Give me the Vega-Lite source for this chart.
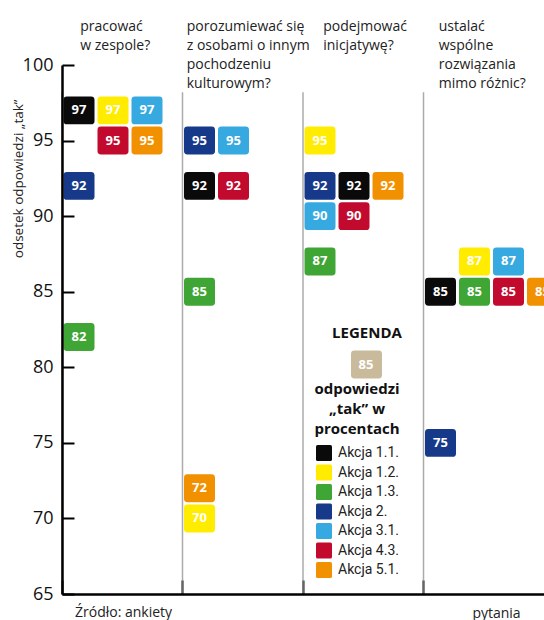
{
  "$schema": "https://vega.github.io/schema/vega-lite/v6.json",
  "width": 482,
  "height": 529,
  "autosize": "none",
  "padding": {"left": 62, "top": 65, "right": 0, "bottom": 26},
  "background": "white",
  "config": {
    "view": {"stroke": null},
    "font": "Open Sans",
    "axis": {"grid": false}
  },
  "title": {
    "text": "Źródło: ankiety",
    "orient": "bottom",
    "anchor": "start",
    "frame": "group",
    "fontSize": 14,
    "fontWeight": "normal",
    "color": "#222222",
    "font": "Open Sans",
    "offset": -14,
    "dx": 13
  },
  "datasets": {
    "questions": [
      {"question": "pracować\nw zespole?"},
      {"question": "porozumiewać się\nz osobami o innym\npochodzeniu\nkulturowym?"},
      {"question": "podejmować\ninicjatywę?"},
      {"question": "ustalać\nwspólne\nrozwiązania\nmimo różnic?"}
    ],
    "answers": [
      {"question": "pracować\nw zespole?", "akcja": "Akcja 1.1.", "value": 97, "slot": 0},
      {"question": "pracować\nw zespole?", "akcja": "Akcja 1.2.", "value": 97, "slot": 1},
      {"question": "pracować\nw zespole?", "akcja": "Akcja 3.1.", "value": 97, "slot": 2},
      {"question": "pracować\nw zespole?", "akcja": "Akcja 4.3.", "value": 95, "slot": 1},
      {"question": "pracować\nw zespole?", "akcja": "Akcja 5.1.", "value": 95, "slot": 2},
      {"question": "pracować\nw zespole?", "akcja": "Akcja 2.", "value": 92, "slot": 0},
      {"question": "pracować\nw zespole?", "akcja": "Akcja 1.3.", "value": 82, "slot": 0},
      {"question": "porozumiewać się\nz osobami o innym\npochodzeniu\nkulturowym?", "akcja": "Akcja 2.", "value": 95, "slot": 0},
      {"question": "porozumiewać się\nz osobami o innym\npochodzeniu\nkulturowym?", "akcja": "Akcja 3.1.", "value": 95, "slot": 1},
      {"question": "porozumiewać się\nz osobami o innym\npochodzeniu\nkulturowym?", "akcja": "Akcja 1.1.", "value": 92, "slot": 0},
      {"question": "porozumiewać się\nz osobami o innym\npochodzeniu\nkulturowym?", "akcja": "Akcja 4.3.", "value": 92, "slot": 1},
      {"question": "porozumiewać się\nz osobami o innym\npochodzeniu\nkulturowym?", "akcja": "Akcja 1.3.", "value": 85, "slot": 0},
      {"question": "porozumiewać się\nz osobami o innym\npochodzeniu\nkulturowym?", "akcja": "Akcja 5.1.", "value": 72, "slot": 0},
      {"question": "porozumiewać się\nz osobami o innym\npochodzeniu\nkulturowym?", "akcja": "Akcja 1.2.", "value": 70, "slot": 0},
      {"question": "podejmować\ninicjatywę?", "akcja": "Akcja 1.2.", "value": 95, "slot": 0},
      {"question": "podejmować\ninicjatywę?", "akcja": "Akcja 2.", "value": 92, "slot": 0},
      {"question": "podejmować\ninicjatywę?", "akcja": "Akcja 1.1.", "value": 92, "slot": 1},
      {"question": "podejmować\ninicjatywę?", "akcja": "Akcja 5.1.", "value": 92, "slot": 2},
      {"question": "podejmować\ninicjatywę?", "akcja": "Akcja 3.1.", "value": 90, "slot": 0},
      {"question": "podejmować\ninicjatywę?", "akcja": "Akcja 4.3.", "value": 90, "slot": 1},
      {"question": "podejmować\ninicjatywę?", "akcja": "Akcja 1.3.", "value": 87, "slot": 0},
      {"question": "ustalać\nwspólne\nrozwiązania\nmimo różnic?", "akcja": "Akcja 1.2.", "value": 87, "slot": 1},
      {"question": "ustalać\nwspólne\nrozwiązania\nmimo różnic?", "akcja": "Akcja 3.1.", "value": 87, "slot": 2},
      {"question": "ustalać\nwspólne\nrozwiązania\nmimo różnic?", "akcja": "Akcja 1.1.", "value": 85, "slot": 0},
      {"question": "ustalać\nwspólne\nrozwiązania\nmimo różnic?", "akcja": "Akcja 1.3.", "value": 85, "slot": 1},
      {"question": "ustalać\nwspólne\nrozwiązania\nmimo różnic?", "akcja": "Akcja 4.3.", "value": 85, "slot": 2},
      {"question": "ustalać\nwspólne\nrozwiązania\nmimo różnic?", "akcja": "Akcja 5.1.", "value": 85, "slot": 3},
      {"question": "ustalać\nwspólne\nrozwiązania\nmimo różnic?", "akcja": "Akcja 2.", "value": 75, "slot": 0}
    ]
  },
  "layer": [
    {
      "data": {"name": "questions"},
      "mark": {"type": "rule", "color": "#ababab", "strokeWidth": 1.5},
      "encoding": {
        "x": {
          "field": "question",
          "type": "nominal",
          "bandPosition": 0,
          "scale": {
            "domain": [
              "pracować\nw zespole?",
              "porozumiewać się\nz osobami o innym\npochodzeniu\nkulturowym?",
              "podejmować\ninicjatywę?",
              "ustalać\nwspólne\nrozwiązania\nmimo różnic?"
            ],
            "paddingInner": 0,
            "paddingOuter": 0
          },
          "axis": {
            "orient": "top",
            "domain": false,
            "ticks": false,
            "title": null,
            "labelAngle": 0,
            "labelAlign": "left",
            "labelBaseline": "top",
            "labelPadding": 46,
            "labelFontSize": 14,
            "labelFont": "Open Sans",
            "labelColor": "#222222",
            "labelLineHeight": 19.3,
            "labelLimit": 0,
            "labelExpr": "split(datum.label, '\\n')",
            "labelOffset": {
              "condition": [
                {"test": "indexof(datum.label, 'porozumiewa') >= 0", "value": -56},
                {"test": "indexof(datum.label, 'podejmowa') >= 0", "value": -40},
                {"test": "indexof(datum.label, 'ustala') >= 0", "value": -45}
              ],
              "value": -42
            }
          }
        },
        "y": {
          "datum": 98.2,
          "type": "quantitative",
          "scale": {"domain": [65, 100], "nice": false, "zero": false},
          "axis": {
            "values": [65, 70, 75, 80, 85, 90, 95, 100],
            "domainColor": "#000000",
            "domainWidth": 2.5,
            "tickColor": "#000000",
            "tickWidth": 2,
            "tickSize": -12,
            "labelPadding": 21,
            "labelFont": "Open Sans",
            "labelFontSize": 18,
            "labelColor": "#111111",
            "title": "odsetek odpowiedzi „tak”",
            "titleFont": "Open Sans",
            "titleFontSize": 13.5,
            "titleFontWeight": "normal",
            "titleColor": "#222222",
            "titleAngle": -90,
            "titleAlign": "right",
            "titleBaseline": "alphabetic",
            "titleX": -40,
            "titleY": 34,
            "zindex": 1
          }
        },
        "y2": {"datum": 65}
      }
    },
    {
      "data": {"name": "answers"},
      "mark": {"type": "point", "filled": true, "opacity": 1, "size": 961, "strokeWidth": 0},
      "encoding": {
        "x": {
          "field": "question",
          "type": "nominal",
          "axis": {
            "orient": "bottom",
            "bandPosition": 0,
            "labels": false,
            "ticks": true,
            "tickSize": -14,
            "tickColor": "#666666",
            "tickWidth": 2.5,
            "domainColor": "#000000",
            "domainWidth": 2.5,
            "title": "pytania",
            "titleFont": "Open Sans",
            "titleFontSize": 14,
            "titleFontWeight": "normal",
            "titleColor": "#222222",
            "titleX": 434,
            "titleY": 23,
            "titleAlign": "center",
            "titleBaseline": "alphabetic",
            "zindex": 1
          }
        },
        "xOffset": {
          "field": "slot",
          "type": "ordinal",
          "scale": {"type": "point", "domain": [0, 1, 2, 3], "range": [17, 119], "padding": 0}
        },
        "y": {"field": "value", "type": "quantitative"},
        "color": {
          "field": "akcja",
          "type": "nominal",
          "scale": {
            "domain": ["Akcja 1.1.", "Akcja 1.2.", "Akcja 1.3.", "Akcja 2.", "Akcja 3.1.", "Akcja 4.3.", "Akcja 5.1."],
            "range": ["#0a0a0a", "#ffec00", "#3fa535", "#17398a", "#36a9e0", "#c20a2f", "#f29100"]
          },
          "legend": {
            "orient": "none",
            "legendX": 252,
            "legendY": 317,
            "title": ["odpowiedzi", "„tak” w", "procentach"],
            "titleFont": "Open Sans",
            "titleFontSize": 15,
            "titleFontWeight": "bold",
            "titleColor": "#111111",
            "titleAlign": "center",
            "titleAnchor": "middle",
            "titleLineHeight": 20,
            "titlePadding": 8,
            "symbolType": "M-0.8,-1 L0.8,-1 Q1,-1 1,-0.8 L1,0.8 Q1,1 0.8,1 L-0.8,1 Q-1,1 -1,0.8 L-1,-0.8 Q-1,-1 -0.8,-1 Z",
            "symbolSize": 256,
            "symbolStrokeWidth": 0,
            "symbolOpacity": 1,
            "labelFont": "Roboto",
            "labelFontSize": 14,
            "labelColor": "#222222",
            "labelOffset": 6,
            "rowPadding": 3.5
          }
        },
        "shape": {
          "datum": "85",
          "type": "nominal",
          "scale": {"range": ["M-0.78,-0.9 L0.78,-0.9 Q1,-0.9 1,-0.68 L1,0.68 Q1,0.9 0.78,0.9 L-0.78,0.9 Q-1,0.9 -1,0.68 L-1,-0.68 Q-1,-0.9 -0.78,-0.9 Z"]},
          "legend": {
            "orient": "none",
            "legendX": 270,
            "legendY": 261,
            "title": "LEGENDA",
            "titleFont": "Open Sans",
            "titleFontSize": 15,
            "titleFontWeight": "bold",
            "titleColor": "#111111",
            "titleAlign": "center",
            "titleAnchor": "middle",
            "titlePadding": 8,
            "symbolSize": 961,
            "symbolFillColor": "#c9ba9b",
            "symbolStrokeWidth": 0,
            "symbolOpacity": 1,
            "labelFont": "Open Sans",
            "labelFontSize": 13,
            "labelFontWeight": "bold",
            "labelColor": "#ffffff",
            "labelAlign": "center",
            "labelOffset": -16
          }
        }
      }
    },
    {
      "data": {"name": "answers"},
      "mark": {"type": "text", "color": "#ffffff", "font": "Open Sans", "fontWeight": "bold", "fontSize": 13, "baseline": "middle", "align": "center"},
      "encoding": {
        "x": {"field": "question", "type": "nominal", "axis": null},
        "xOffset": {"field": "slot", "type": "ordinal"},
        "y": {"field": "value", "type": "quantitative"},
        "text": {"field": "value", "type": "quantitative"}
      }
    }
  ]
}
